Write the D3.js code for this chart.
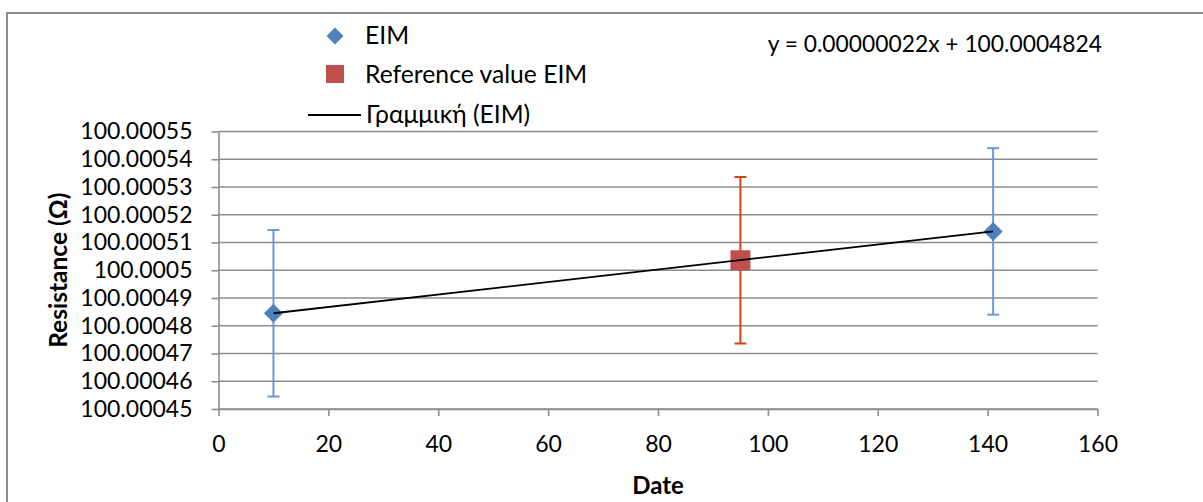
<!DOCTYPE html>
<html><head><meta charset="utf-8">
<script src="https://cdn.jsdelivr.net/npm/d3@7"></script>
<style>
html,body{margin:0;padding:0;background:#fff;overflow:hidden;}
text{font-family:Lato,"Open Sans",sans-serif;fill:#000;}
</style></head>
<body><svg id="c" width="1203" height="502"></svg>
<script>
// ---- data ----
const eimX = [10, 141];
const eimY = [100.0004845, 100.000514];
const eimErr = [0.00003, 0.00003];
const refX = [95];
const refY = [100.0005036];
const refErr = [0.00003];
const xTicks = [0, 20, 40, 60, 80, 100, 120, 140, 160];
const yTicks = [100.00045, 100.00046, 100.00047, 100.00048, 100.00049, 100.0005, 100.00051, 100.00052, 100.00053, 100.00054, 100.00055];
const yTickLabels = ["100.00045","100.00046","100.00047","100.00048","100.00049","100.0005","100.00051","100.00052","100.00053","100.00054","100.00055"];
const legendLabels = ["EIM", "Reference value EIM", "Γραμμική (EIM)"];
const equationLabel = "y = 0.00000022x + 100.0004824";
const xTitle = "Date";
const yTitle = "Resistance (Ω)";

// ---- layout ----
const svg = d3.select("#c");
const x = d3.scaleLinear().domain([0, 160]).range([218.5, 1097.5]);
const y = d3.scaleLinear().domain([100.00045, 100.00055]).range([409, 131.5]);
const gridCol = "#8c8c8c";
const blue = "#4f81bd", blueErr = "#6a9bd8", red = "#c0504d", redErr = "#d84315";

// outer border
svg.append("path").attr("d", "M7,520 V13 H1230").attr("fill","none").attr("stroke", "#8c8c8c").attr("stroke-width", 2);

// gridlines
svg.append("g").selectAll("line").data(yTicks).join("line")
  .attr("x1", x(0)).attr("x2", x(160)).attr("y1", d => y(d)).attr("y2", d => y(d))
  .attr("stroke", gridCol).attr("stroke-width", 1.6);

// y axis
const yAxis = d3.axisLeft(y).tickValues(yTicks).tickFormat((d,i) => yTickLabels[i]).tickSizeInner(7).tickSizeOuter(0).tickPadding(19);
const gy = svg.append("g").attr("transform", `translate(${x(0)},0)`).call(yAxis);
gy.select(".domain").attr("stroke", gridCol).attr("stroke-width", 1.6);
gy.selectAll(".tick line").attr("stroke", gridCol).attr("stroke-width", 1.6);
gy.selectAll(".tick text").style("font-size", "23px").style("font-family", "Lato").attr("fill", "#000");

// x axis
const xAxis = d3.axisBottom(x).tickValues(xTicks).tickSizeInner(7).tickSizeOuter(0).tickPadding(20);
const gx = svg.append("g").attr("transform", `translate(0,${y(100.00045)})`).call(xAxis);
gx.select(".domain").attr("stroke", gridCol).attr("stroke-width", 1.6);
gx.selectAll(".tick line").attr("stroke", gridCol).attr("stroke-width", 1.6);
gx.selectAll(".tick text").style("font-size", "23px").style("font-family", "Lato").attr("fill", "#000");

// axis titles
svg.append("text").attr("x", x(80)).attr("y", 494).attr("text-anchor", "middle")
  .style("font-size", "24px").style("font-weight", "bold").text(xTitle);
svg.append("text").attr("transform", `translate(67,${(y.range()[0]+y.range()[1])/2}) rotate(-90)`)
  .attr("text-anchor", "middle").style("font-size", "24.5px").style("font-weight", "bold").text(yTitle);

// error bars
function errBars(xs, ys, es, col) {
  const g = svg.append("g").attr("stroke", col).attr("stroke-width", 2).attr("fill", "none");
  xs.forEach((xv, i) => {
    const cx = x(xv), t = y(ys[i] + es[i]), b = y(ys[i] - es[i]);
    g.append("line").attr("x1", cx).attr("x2", cx).attr("y1", t).attr("y2", b);
    g.append("line").attr("x1", cx - 6).attr("x2", cx + 6).attr("y1", t).attr("y2", t);
    g.append("line").attr("x1", cx - 6).attr("x2", cx + 6).attr("y1", b).attr("y2", b);
  });
}
errBars(eimX, eimY, eimErr, blueErr);
errBars(refX, refY, refErr, redErr);

// markers
function diamondPath(r){ return `M0,${-r}L${r},0L0,${r}L${-r},0Z`; }
svg.append("g").selectAll("path").data(eimX).join("path")
  .attr("d", diamondPath(9.5)).attr("fill", blue)
  .attr("transform", (d,i) => `translate(${x(d)},${y(eimY[i])})`);
svg.append("g").selectAll("rect").data(refX).join("rect")
  .attr("x", d => x(d) - 10).attr("y", (d,i) => y(refY[i]) - 10).attr("width", 20).attr("height", 20)
  .attr("fill", red).attr("rx", 1);

// linear trendline (least squares over EIM)
const mx = d3.mean(eimX), my = d3.mean(eimY);
const slope = d3.sum(eimX, (d,i) => (d - mx) * (eimY[i] - my)) / d3.sum(eimX, d => (d - mx) * (d - mx));
const icpt = my - slope * mx;
const ext = d3.extent(eimX);
svg.append("path").datum(ext)
  .attr("d", d3.line().x(d => x(d)).y(d => y(icpt + slope * d)))
  .attr("stroke", "#000").attr("stroke-width", 1.8).attr("fill", "none");

// legend
const lg = svg.append("g");
lg.append("path").attr("d", diamondPath(8.5)).attr("fill", blue).attr("transform", "translate(335,36)");
lg.append("rect").attr("x", 326).attr("y", 65).attr("width", 18).attr("height", 18).attr("fill", red);
lg.append("line").attr("x1", 308).attr("x2", 361).attr("y1", 115).attr("y2", 115).attr("stroke", "#000").attr("stroke-width", 1.8);
[44, 82.5, 123].forEach((yy, i) => {
  lg.append("text").attr("x", i === 2 ? 366 : 365).attr("y", yy).style("font-size", "24.7px").text(legendLabels[i]);
});

// equation
svg.append("text").attr("x", 1102).attr("y", 52).attr("text-anchor", "end").style("font-size", "22.8px").text(equationLabel);
</script></body></html>
